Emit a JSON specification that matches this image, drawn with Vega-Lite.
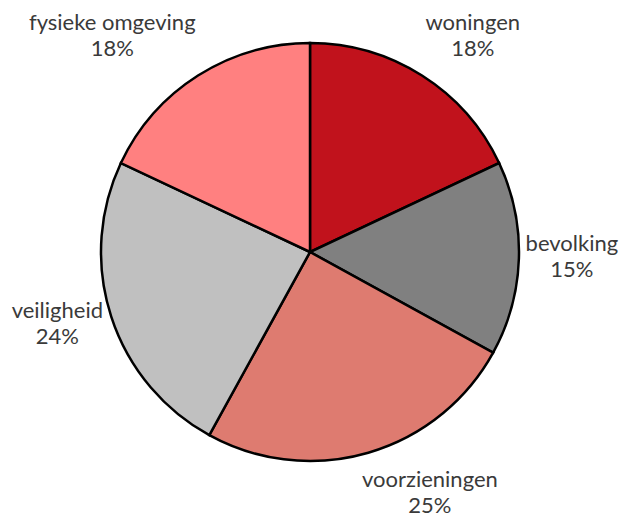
{
  "$schema": "https://vega.github.io/schema/vega-lite/v6.json",
  "width": 620,
  "height": 504,
  "autosize": "none",
  "padding": {"top": 0, "left": 0, "right": 0, "bottom": 12},
  "background": "white",
  "data": {
    "values": [
      {"i": 1, "name": "woningen", "pct": 18},
      {"i": 2, "name": "bevolking", "pct": 15},
      {"i": 3, "name": "voorzieningen", "pct": 25},
      {"i": 4, "name": "veiligheid", "pct": 24},
      {"i": 5, "name": "fysieke omgeving", "pct": 18}
    ]
  },
  "transform": [
    {"stack": "pct", "groupby": [], "sort": [{"field": "i", "order": "ascending"}], "as": ["s0", "s1"]},
    {"calculate": "(datum.s0 + datum.s1) / 2", "as": "mid"},
    {"calculate": "[datum.name, datum.pct + '%']", "as": "label"}
  ],
  "resolve": {"scale": {"theta": "shared"}},
  "layer": [
    {
      "mark": {"type": "arc", "outerRadius": 209, "stroke": "black", "strokeWidth": 2.5},
      "encoding": {
        "theta": {"field": "s0", "type": "quantitative", "scale": {"domain": [0, 100]}},
        "theta2": {"field": "s1"},
        "color": {
          "field": "name",
          "type": "nominal",
          "scale": {
            "domain": ["woningen", "bevolking", "voorzieningen", "veiligheid", "fysieke omgeving"],
            "range": ["#C1121C", "#808080", "#DE7B70", "#C0C0C0", "#FF8080"]
          },
          "legend": null
        }
      }
    },
    {
      "transform": [{"filter": "datum.name == 'woningen'"}],
      "mark": {"type": "text", "radius": 272, "dx": 17, "dy": 1, "font": "Lato", "fontSize": 22, "fill": "#3a3a3a", "lineHeight": 26, "baseline": "middle", "align": "center"},
      "encoding": {"theta": {"field": "mid", "type": "quantitative", "scale": {"domain": [0, 100]}}, "text": {"field": "label"}}
    },
    {
      "transform": [{"filter": "datum.name == 'bevolking'"}],
      "mark": {"type": "text", "radius": 272, "dx": -10, "dy": -17, "font": "Lato", "fontSize": 22, "fill": "#3a3a3a", "lineHeight": 26, "baseline": "middle", "align": "center"},
      "encoding": {"theta": {"field": "mid", "type": "quantitative", "scale": {"domain": [0, 100]}}, "text": {"field": "label"}}
    },
    {
      "transform": [{"filter": "datum.name == 'voorzieningen'"}],
      "mark": {"type": "text", "radius": 272, "dx": 44, "dy": -33, "font": "Lato", "fontSize": 22, "fill": "#3a3a3a", "lineHeight": 26, "baseline": "middle", "align": "center"},
      "encoding": {"theta": {"field": "mid", "type": "quantitative", "scale": {"domain": [0, 100]}}, "text": {"field": "label"}}
    },
    {
      "transform": [{"filter": "datum.name == 'veiligheid'"}],
      "mark": {"type": "text", "radius": 272, "dx": 6, "dy": -25, "font": "Lato", "fontSize": 22, "fill": "#3a3a3a", "lineHeight": 26, "baseline": "middle", "align": "center"},
      "encoding": {"theta": {"field": "mid", "type": "quantitative", "scale": {"domain": [0, 100]}}, "text": {"field": "label"}}
    },
    {
      "transform": [{"filter": "datum.name == 'fysieke omgeving'"}],
      "mark": {"type": "text", "radius": 272, "dx": -52, "dy": 1, "font": "Lato", "fontSize": 22, "fill": "#3a3a3a", "lineHeight": 26, "baseline": "middle", "align": "center"},
      "encoding": {"theta": {"field": "mid", "type": "quantitative", "scale": {"domain": [0, 100]}}, "text": {"field": "label"}}
    }
  ]
}
